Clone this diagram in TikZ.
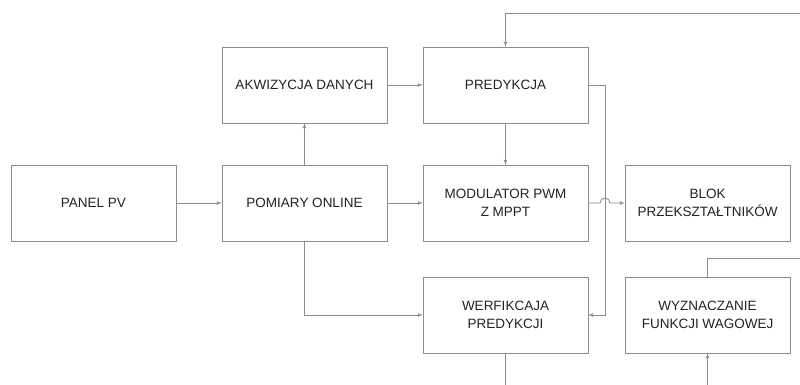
\documentclass[tikz,border=0pt]{standalone}
\usepackage{fontspec}
\setmainfont{Liberation Sans}
\usetikzlibrary{arrows}
\usetikzlibrary{positioning}
\usetikzlibrary{calc}
\definecolor{linegray}{RGB}{140,140,140}
\definecolor{textgray}{RGB}{34,34,34}

\begin{document}
\begin{tikzpicture}[->,>=latex',x=1pt,y=-1pt,node distance=36pt,
                    line width=0.9pt,draw=linegray,
                    block/.style={rectangle,draw=linegray,line width=0.9pt,
                      minimum width=165pt,minimum height=76pt,outer sep=0pt,
                      align=center,text=textgray,
                      font=\fontsize{13.5}{18}\selectfont}]

  \useasboundingbox (0,0) rectangle (800,385);

  \node[block] (panel) at (93.5,203) {PANEL PV};
  \node[block] (pomiary) [right=46pt of panel] {POMIARY ONLINE};
  \node[block] (modulator) [right=36pt of pomiary] {MODULATOR PWM\\Z MPPT};
  \node[block] (blok) [right=37pt of modulator] {BLOK\\PRZEKSZTAŁTNIKÓW};
  \node[block] (akwizycja) [above=42pt of pomiary] {AKWIZYCJA DANYCH};
  \node[block] (predykcja) [above=42pt of modulator] {PREDYKCJA};
  \node[block] (werfikacja) [below=36pt of modulator] {WERFIKCAJA\\PREDYKCJI};
  \node[block] (wagi) [below=36pt of blok] {WYZNACZANIE\\FUNKCJI WAGOWEJ};

  % free ends at the edge of the picture
  \coordinate (rail) at (605,0);
  \coordinate (topin) at (800,13);
  \coordinate (wagiout) at (800,258);
  \coordinate (bottom) at (0,385);

  \draw (panel) -- (pomiary);
  \draw (pomiary) -- (akwizycja);
  \draw (akwizycja) -- (predykcja);
  \draw (pomiary) -- (modulator);
  \draw (predykcja) -- (modulator);
  \draw (topin) -| (predykcja.north);
  \draw (predykcja.east) -- (predykcja.east -| rail) -- (werfikacja.east -| rail) -- (werfikacja.east);
  \draw (pomiary.south) |- (werfikacja.west);
  \draw (modulator.east) -- ($(modulator.east -| rail)+(-5,0)$)
        arc[start angle=180,end angle=0,radius=5pt] -- (blok.west);
  \draw[-] (werfikacja.south) -- (werfikacja.south |- bottom);
  \draw (wagi.south |- bottom) -- (wagi.south);
  \draw[-] (wagi.north) |- (wagiout);
\end{tikzpicture}
\end{document}
